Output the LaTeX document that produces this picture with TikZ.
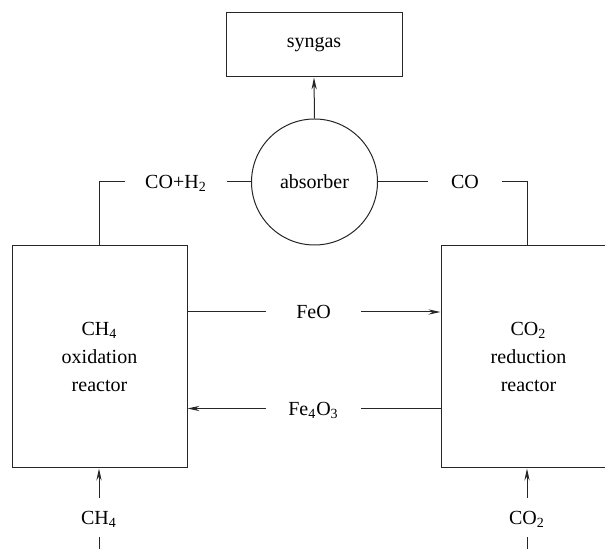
\documentclass[tikz,border=0pt]{standalone}
\usepackage{fontspec}
\setmainfont{LiberationSerif}[Extension=.ttf, UprightFont=*-Regular, BoldFont=*-Bold, ItalicFont=*-Italic, BoldItalicFont=*-BoldItalic]
\usetikzlibrary{arrows.meta}

\begin{document}
\begin{tikzpicture}[x=0.5pt, y=-0.5pt,
    font=\rmfamily\fontsize{10}{14}\selectfont,
    unit/.style={draw=black!85, line width=0.5pt, align=center, minimum width=#1},
    vessel/.style={draw=black!85, line width=0.5pt, circle, minimum size=63pt, inner sep=0pt},
    stream/.style={inner xsep=0pt, inner ysep=0pt, text depth=0pt, minimum width=#1},
    feed/.style={inner sep=0pt, text depth=0pt, minimum height=19.5pt},
    flow/.style={draw=black!85, line width=0.5pt},
    arrow/.style={flow, -{Stealth[length=6pt, width=2.6pt]}}
]
    \useasboundingbox (0,0) rectangle (605,549);

    % Units
    \node[unit=88pt, minimum height=32pt] (syngas) at (314,45) {syngas};
    \node[vessel] (absorber) at (314.5,182) {absorber};
    \node[unit=87.5pt, minimum height=111pt] (oxid) at (99.5,357) {CH\textsubscript{4}\\oxidation\\reactor};
    \node[unit=87.5pt, minimum height=111pt] (reduc) at (528.5,357) {CO\textsubscript{2}\\reduction\\reactor};

    % Stream labels
    \node[stream=51pt] (coh) at (176,182) {CO+H\textsubscript{2}};
    \node[stream=37pt] (co) at (465,182) {CO};
    \node[stream=47.5pt] (feo) at (313.5,312) {FeO};
    \node[stream=47.5pt] (fe) at (313.5,408.5) {Fe\textsubscript{4}O\textsubscript{3}};
    \node[feed] (ch) at (99,517.5) {CH\textsubscript{4}};
    \node[feed] (cotwo) at (527,517.5) {CO\textsubscript{2}};
    \coordinate (chin) at (99,549);
    \coordinate (cotwoin) at (527,549);

    % Gas to absorber
    \draw[flow] (oxid.north) |- (coh.west);
    \draw[flow] (coh.east) -- (absorber.west);
    \draw[flow] ([xshift=-0.75pt]reduc.north) |- (co.east);
    \draw[flow] (co.west) -- (absorber.east);
    \draw[arrow] (absorber.north) -- (syngas.south);

    % Oxygen carrier loop
    \draw[flow] (oxid.east |- feo) -- (feo.west);
    \draw[arrow] (feo.east) -- (reduc.west |- feo);
    \draw[flow] (reduc.west |- fe) -- (fe.east);
    \draw[arrow] (fe.west) -- (oxid.east |- fe);

    % Feeds
    \draw[flow] (chin) -- (ch.south);
    \draw[arrow] (ch.north) -- (ch.north |- oxid.south);
    \draw[flow] (cotwoin) -- (cotwo.south);
    \draw[arrow] (cotwo.north) -- (cotwo.north |- reduc.south);
\end{tikzpicture}
\end{document}
